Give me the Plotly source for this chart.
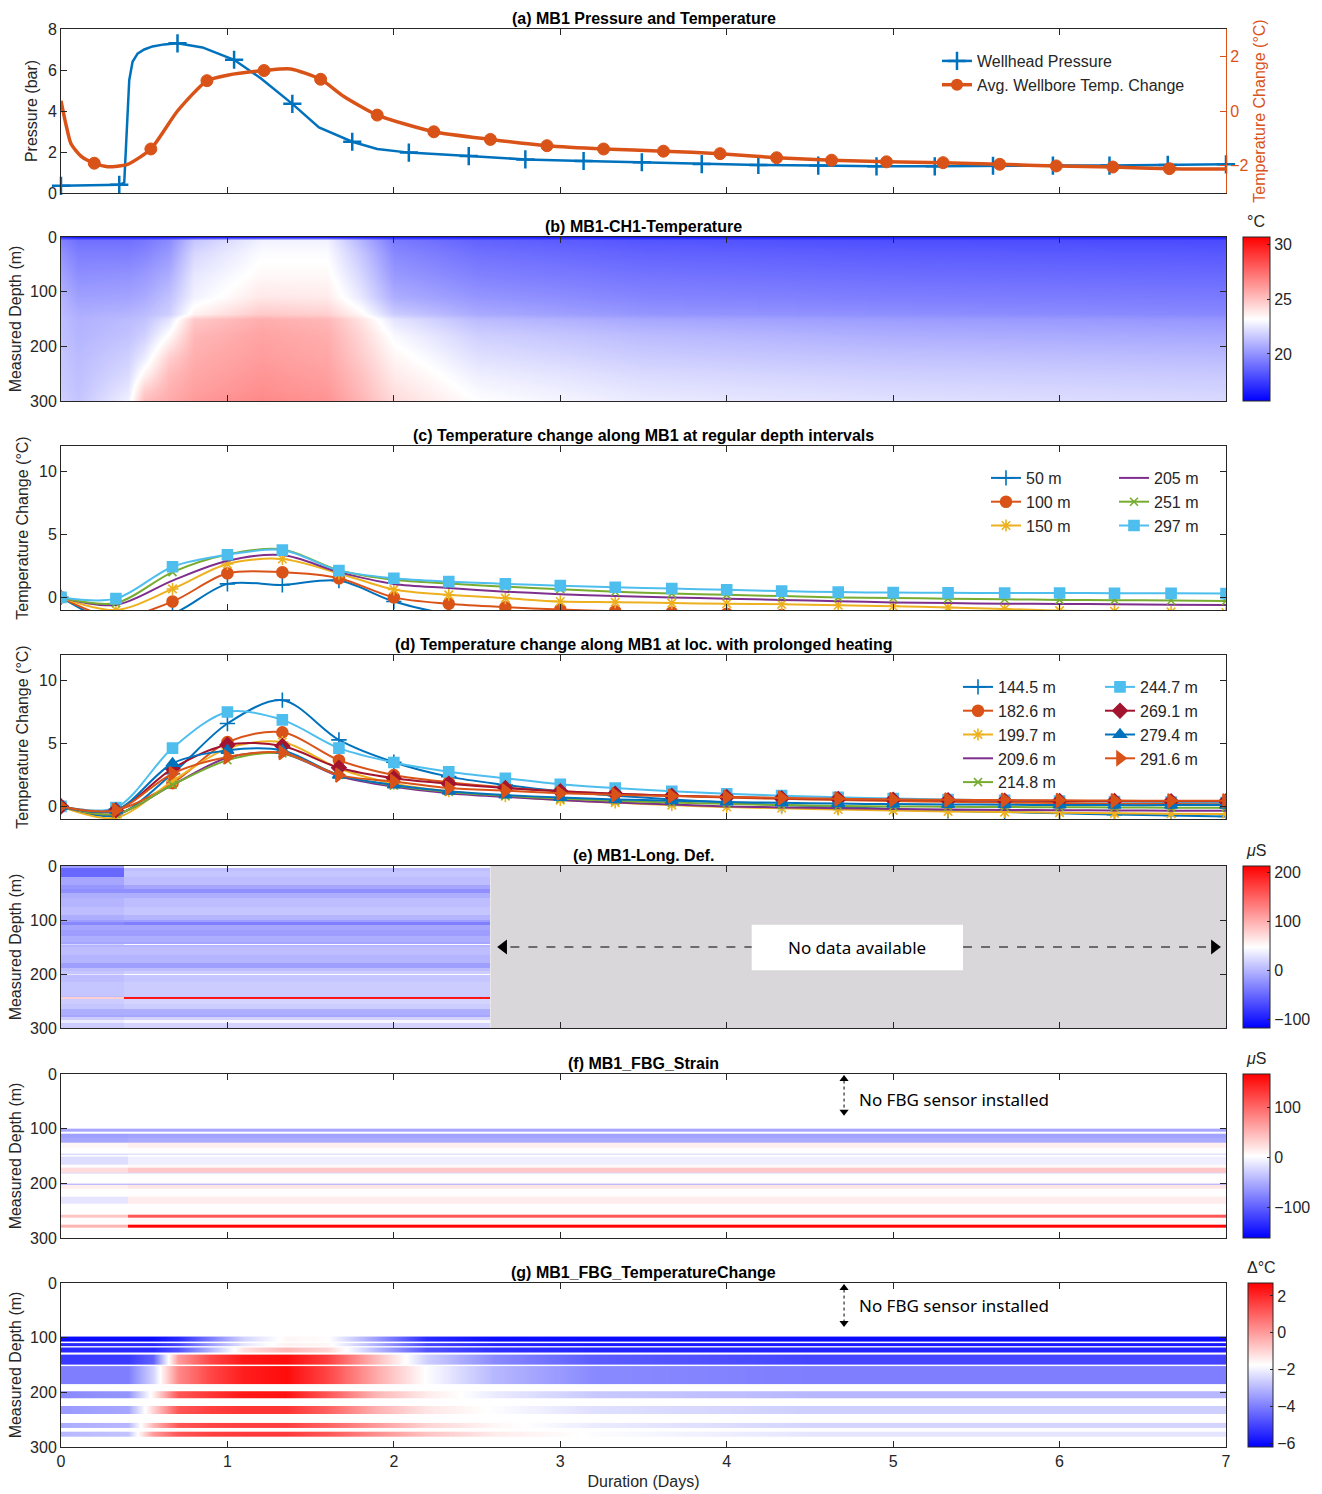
import plotly.graph_objects as go

# ======================= DATA =======================
# (a) wellhead pressure (bar) and average wellbore temperature change (°C)
p_days = [0, 0.35, 0.38, 0.40, 0.41, 0.43, 0.46, 0.5, 0.55, 0.62, 0.7, 0.85, 1.04, 1.2, 1.39, 1.55,
          1.75, 1.9, 2.09, 2.45, 2.79, 3.14, 3.49, 3.85, 4.19, 4.55, 4.9, 5.25, 5.6, 5.96, 6.3, 6.65, 7.0]
p_bar = [0.35, 0.4, 0.5, 3.8, 5.5, 6.4, 6.8, 7.0, 7.15, 7.25, 7.3, 7.1, 6.5, 5.6, 4.35, 3.2,
         2.5, 2.15, 1.97, 1.8, 1.64, 1.56, 1.5, 1.41, 1.37, 1.34, 1.3, 1.3, 1.33, 1.34, 1.34, 1.37, 1.4]
p_marker_days = [0, 0.35, 0.7, 1.04, 1.39, 1.75, 2.09, 2.45, 2.79, 3.14, 3.49, 3.85, 4.19, 4.55,
                 4.9, 5.25, 5.6, 5.96, 6.3, 6.65, 7.0]

t_days = [0, 0.03, 0.06, 0.12, 0.2, 0.28, 0.4, 0.54, 0.7, 0.877, 1.0, 1.22, 1.38, 1.56, 1.7, 1.9,
          2.24, 2.58, 2.92, 3.26, 3.62, 3.96, 4.3, 4.63, 4.96, 5.3, 5.64, 5.98, 6.32, 6.66, 7.0]
t_change = [0.375, -0.5, -1.2, -1.65, -1.91, -2.04, -1.95, -1.39, 0.0, 1.11, 1.31, 1.48, 1.54, 1.16, 0.53, -0.15,
            -0.76, -1.04, -1.27, -1.39, -1.47, -1.56, -1.71, -1.8, -1.86, -1.89, -1.95, -2.01, -2.05, -2.11, -2.12]
t_marker_days = [0.2, 0.54, 0.877, 1.22, 1.56, 1.9, 2.24, 2.58, 2.92, 3.26, 3.62, 3.96, 4.3, 4.63,
                 4.96, 5.3, 5.64, 5.98, 6.32, 6.66]

# (c)/(d) temperature change at depths, sampled every 1/3 day
tc_days = [0, 0.33, 0.67, 1.0, 1.33, 1.67, 2.0, 2.33, 2.67, 3.0, 3.33, 3.67, 4.0, 4.33, 4.67, 5.0,
           5.33, 5.67, 6.0, 6.33, 6.67, 7.0]
c50 = [0, -2.0, -1.3, 1.07, 0.99, 1.33, -0.33, -1.3, -1.6, -1.8, -1.9, -2.0, -2.0, -2.1, -2.1, -2.2, -2.2, -2.2, -2.3, -2.3, -2.3, -2.3]
c100 = [0, -1.6, -0.33, 1.91, 1.99, 1.52, 0.0, -0.51, -0.78, -0.96, -1.1, -1.2, -1.3, -1.4, -1.5, -1.5, -1.6, -1.6, -1.7, -1.7, -1.7, -1.8]
c150 = [0, -1.0, 0.67, 2.65, 3.04, 1.9, 0.62, 0.2, -0.06, -0.33, -0.38, -0.45, -0.5, -0.55, -0.62, -0.7, -0.8, -0.92, -1.05, -1.1, -1.15, -1.2]
c205 = [0, -0.6, 1.33, 2.9, 3.35, 2.0, 1.07, 0.75, 0.45, 0.25, 0.1, 0.0, -0.1, -0.2, -0.3, -0.4, -0.45, -0.5, -0.52, -0.55, -0.58, -0.6]
c251 = [0, -0.45, 2.0, 3.4, 3.8, 2.15, 1.4, 1.1, 0.85, 0.65, 0.45, 0.3, 0.2, 0.1, 0.0, -0.05, -0.1, -0.15, -0.2, -0.22, -0.25, -0.28]
c297 = [0, -0.1, 2.43, 3.38, 3.75, 2.12, 1.52, 1.25, 1.07, 0.93, 0.8, 0.7, 0.6, 0.5, 0.42, 0.38, 0.36, 0.35, 0.35, 0.33, 0.32, 0.3]

d144 = [0, -0.7, 2.6, 6.57, 8.42, 5.27, 3.5, 2.36, 1.7, 1.19, 0.85, 0.55, 0.3, 0.1, -0.05, -0.2, -0.35, -0.45, -0.55, -0.65, -0.72, -0.8]
d182 = [0, -0.3, 1.84, 5.09, 5.87, 3.66, 2.48, 1.91, 1.5, 1.2, 1.0, 0.85, 0.7, 0.6, 0.5, 0.42, 0.36, 0.3, 0.26, 0.23, 0.2, 0.2]
d199 = [0, -0.9, 2.0, 4.6, 5.1, 3.0, 1.8, 1.2, 0.8, 0.5, 0.3, 0.1, -0.05, -0.15, -0.25, -0.32, -0.4, -0.45, -0.5, -0.55, -0.58, -0.6]
d209 = [0, -0.6, 1.7, 3.85, 4.2, 2.4, 1.55, 1.05, 0.75, 0.5, 0.3, 0.15, 0.0, -0.08, -0.15, -0.2, -0.25, -0.28, -0.3, -0.32, -0.34, -0.35]
d214 = [0, -0.6, 1.7, 3.66, 4.2, 2.5, 1.65, 1.15, 0.85, 0.62, 0.45, 0.3, 0.2, 0.1, 0.03, 0.0, -0.03, -0.05, -0.07, -0.08, -0.1, -0.1]
d244 = [0, -0.1, 4.62, 7.48, 6.86, 4.62, 3.48, 2.75, 2.23, 1.76, 1.45, 1.2, 1.0, 0.85, 0.72, 0.62, 0.55, 0.48, 0.42, 0.38, 0.34, 0.3]
d269 = [0, -0.3, 3.0, 4.88, 4.78, 3.06, 2.23, 1.8, 1.45, 1.2, 1.0, 0.85, 0.75, 0.65, 0.58, 0.52, 0.48, 0.45, 0.43, 0.42, 0.41, 0.4]
d279 = [0, -0.3, 3.4, 4.44, 4.44, 2.48, 1.7, 1.2, 0.9, 0.7, 0.55, 0.45, 0.35, 0.28, 0.22, 0.18, 0.15, 0.13, 0.11, 0.1, 0.1, 0.1]
d291 = [0, -0.3, 2.6, 3.92, 4.26, 2.48, 1.97, 1.45, 1.24, 1.05, 0.92, 0.82, 0.74, 0.67, 0.6, 0.55, 0.52, 0.5, 0.48, 0.46, 0.45, 0.45]

# (b) DTS temperature (°C): rows = depth, columns = days
b_days = [0, 0.1, 0.4, 0.5, 0.65, 0.8, 1.2, 1.6, 1.8, 2.0, 2.5, 3.5, 5.0, 7.0]
b_depth = [0, 5, 30, 70, 110, 140, 150, 180, 220, 250, 280, 300]
b_temp = [
    [17.0, 16.5, 16.5, 16.5, 16.5, 16.5, 16.5, 16.5, 16.5, 16.5, 16.5, 16.5, 16.5, 16.5],
    [19.5, 19.0, 19.0, 19.2, 19.8, 21.5, 22.8, 22.8, 21.0, 19.3, 18.6, 18.2, 18.0, 17.9],
    [20.0, 19.4, 19.4, 19.6, 20.2, 22.0, 23.1, 23.1, 21.5, 19.7, 19.0, 18.6, 18.4, 18.3],
    [20.5, 19.9, 20.0, 20.2, 20.8, 22.5, 23.4, 23.4, 22.0, 20.2, 19.5, 19.1, 18.9, 18.8],
    [21.0, 20.4, 20.5, 20.7, 21.4, 22.8, 23.9, 23.8, 22.5, 20.8, 20.1, 19.6, 19.4, 19.3],
    [21.2, 20.8, 21.0, 21.2, 21.8, 23.6, 24.8, 24.6, 23.4, 21.7, 20.7, 20.1, 19.9, 19.7],
    [21.3, 20.9, 21.2, 21.4, 22.4, 24.8, 25.6, 25.3, 24.0, 22.4, 21.2, 20.6, 20.3, 20.1],
    [21.4, 21.0, 21.4, 21.8, 23.3, 25.3, 25.9, 25.6, 24.4, 23.0, 21.8, 21.2, 20.8, 20.6],
    [21.5, 21.2, 21.8, 22.6, 24.6, 25.6, 26.1, 25.8, 24.7, 23.5, 22.3, 21.7, 21.4, 21.2],
    [21.6, 21.3, 22.1, 23.5, 25.2, 25.8, 26.3, 26.0, 25.0, 23.8, 22.7, 22.1, 21.8, 21.6],
    [21.7, 21.4, 22.5, 24.6, 25.5, 26.0, 26.5, 26.2, 25.2, 24.1, 23.0, 22.4, 22.1, 21.9],
    [21.8, 21.5, 22.8, 25.2, 25.7, 26.2, 26.7, 26.4, 25.4, 24.3, 23.2, 22.6, 22.3, 22.1],
]

# (e) DAS longitudinal deformation (µS): depth bands, early (< 0.38 d) and main (0.38-2.58 d)
e_day_edges = [0, 0.38, 2.58]
e_depth_edges = [0, 3, 10, 20, 35, 42, 50, 60, 75, 90, 100, 103, 110, 118, 130, 140, 145, 147, 150, 165,
                 180, 188, 195, 200, 202, 215, 240, 243, 246, 255, 265, 275, 280, 285, 290, 300]
e_early = [-15, -50, -50, -10, -20, -25, -5, 0, 5, -5, -15, -30, -10, -15, -5, -10, 20, 0, 5,
           0, -15, 5, 10, 30, 5, 10, 5, 80, 15, 10, -5, -10, 15, 35, 15]
e_main = [45, 5, 10, 5, -10, -25, -5, 5, 10, 0, -15, -35, -10, -15, -5, -10, 45, 0, 5,
          0, -15, 5, 15, 48, 10, 15, 10, 200, 20, 15, -5, -10, 20, 42, 20]

# (f) FBG strain (µS)
f_day_edges = [0, 0.4, 7]
f_depth_edges = [100, 106, 109, 117, 125, 135, 145, 148, 152, 165, 172, 180, 183, 200, 203, 210, 225, 238,
                 257, 262, 275, 282]
f_early = [-55, None, -60, -55, 8, 2, -30, 0, -20, 3, 25, -20, 2, -55, 12, 2, -15, 2, 40, 3, 50]
f_late = [-55, None, -58, -52, 12, 3, -25, 2, -8, 5, 38, -20, 3, -55, 18, 3, 14, 3, 110, 5, 165]

# (g) FBG temperature change (°C) per sensor band
g_days = [0, 0.4, 0.55, 0.7, 0.9, 1.1, 1.35, 1.6, 1.9, 2.2, 2.6, 3.2, 4.5, 7.0]
g_bands = [(98, 108), (110, 116), (118, 128), (131, 149), (152, 185), (198, 210), (225, 240), (256, 266), (272, 282)]
g_values = [
    [-6.0, -6.0, -6.0, -5.5, -4.0, -2.5, -1.6, -1.7, -3.5, -5.5, -6.0, -6.0, -6.0, -6.0],
    [-5.5, -5.5, -5.5, -5.0, -3.5, -2.2, -1.5, -1.6, -3.2, -5.0, -5.6, -5.8, -5.8, -5.8],
    [-5.5, -5.5, -5.5, -4.8, -3.0, -1.2, -0.5, -1.0, -3.0, -4.8, -5.4, -5.6, -5.6, -5.6],
    [-5.2, -5.2, -4.5, 0.0, 1.5, 2.3, 2.5, 1.6, -0.6, -2.6, -3.8, -4.6, -5.0, -5.0],
    [-4.0, -4.0, -2.5, 0.3, 1.5, 2.2, 2.5, 1.5, -0.3, -1.8, -3.0, -3.8, -4.0, -4.0],
    [-3.8, -3.6, -1.5, 1.2, 1.8, 2.3, 2.4, 1.2, -0.5, -1.4, -2.1, -2.7, -3.0, -3.0],
    [-3.5, -3.3, -1.0, 1.2, 1.6, 1.8, 1.8, 1.0, -0.4, -1.3, -1.8, -2.3, -2.6, -2.6],
    [-3.2, -3.0, -0.5, 1.2, 1.5, 1.6, 1.6, 1.0, 0.0, -1.0, -1.6, -2.1, -2.5, -2.5],
    [-3.0, -2.8, 0.0, 1.2, 1.6, 1.7, 1.7, 1.2, 0.2, -0.7, -1.4, -1.8, -2.2, -2.2],
]

day_ticks = [0, 1, 2, 3, 4, 5, 6, 7]
depth_ticks = [0, 100, 200, 300]

# ======================= STYLE / LAYOUT =======================
W, H = 1322, 1494
PX0, PX1 = 61, 1226
PANELS = [(29, 193), (237, 401), (446, 610), (655, 819), (866, 1028), (1074, 1238), (1283, 1447)]
FONT = "Liberation Sans, Arial, sans-serif"
TFONT = "Liberation Sans Narrow, Arial Narrow, Liberation Sans, Arial, sans-serif"
SANS = "Noto Sans, Open Sans, sans-serif"
INK = "#262626"
BLUE, ORANGE, YELLOW = "#0072BD", "#D95319", "#EDB120"
PURPLE, GREEN, CYAN, DRED = "#7E2F8E", "#77AC30", "#4DBEEE", "#A2142F"
BWR = [[0, "rgb(0,0,255)"], [0.5, "rgb(255,255,255)"], [1, "rgb(255,0,0)"]]


def ydom(i):
    top, bot = PANELS[i]
    return [1 - bot / H, 1 - top / H]


def py(pix):
    return 1 - pix / H


def px(pix):
    return pix / W


fig = go.Figure()

ax_common = dict(showline=True, linecolor=INK, linewidth=1, ticks="inside", ticklen=6, tickcolor=INK,
                 showgrid=False, zeroline=False, tickfont=dict(family=FONT, size=16, color=INK))

layout = dict(width=W, height=H, margin=dict(l=0, r=0, t=0, b=0, autoexpand=False),
              plot_bgcolor="white", paper_bgcolor="white", hovermode=False,
              font=dict(family=FONT, size=16, color=INK))

ynames = ["y", "y2", "y3", "y4", "y5", "y6", "y7"]
xnames = ["x", "x2", "x3", "x4", "x5", "x6", "x7"]
for i in range(7):
    xk = "xaxis" if i == 0 else f"xaxis{i + 1}"
    yk = "yaxis" if i == 0 else f"yaxis{i + 1}"
    layout[xk] = dict(ax_common, domain=[px(PX0), px(PX1)], anchor=ynames[i], range=[0, 7],
                      tickvals=day_ticks, mirror="ticks", showticklabels=(i == 6))
    if i == 0:
        layout[yk] = dict(ax_common, domain=ydom(i), anchor="x", range=[0, 8], tickvals=[0, 2, 4, 6, 8],
                          mirror=False, title=dict(text="Pressure (bar)", font=dict(size=16), standoff=6))
    elif i in (2, 3):
        layout[yk] = dict(ax_common, domain=ydom(i), anchor=xnames[i], range=[-1, 12], tickvals=[0, 5, 10],
                          mirror="ticks", title=dict(text="Temperature Change (°C)", font=dict(size=16), standoff=6))
    else:
        layout[yk] = dict(ax_common, domain=ydom(i), anchor=xnames[i], range=[300, 0], tickvals=depth_ticks,
                          mirror="ticks", title=dict(text="Measured Depth (m)", font=dict(size=16), standoff=4))
layout["xaxis7"]["title"] = dict(text="Duration (Days)", font=dict(size=16), standoff=6)
layout["yaxis8"] = dict(ax_common, overlaying="y", side="right", anchor="x", range=[-3, 3], tickvals=[-2, 0, 2],
                        linecolor=ORANGE, tickcolor=ORANGE, tickfont=dict(family=FONT, size=16, color=ORANGE),
                        title=dict(text="Temperature Change (°C)", font=dict(size=16, color=ORANGE), standoff=6))

# ---------- (a) ----------
p_lookup = dict(zip(p_days, p_bar))
t_lookup = dict(zip(t_days, t_change))
fig.add_trace(go.Scatter(x=p_days, y=p_bar, mode="lines", line=dict(color=BLUE, width=2.5),
                         showlegend=False, xaxis="x", yaxis="y"))
fig.add_trace(go.Scatter(x=p_marker_days, y=[p_lookup[d] for d in p_marker_days], mode="markers",
                         marker=dict(symbol="cross-thin", size=13, color=BLUE, line=dict(color=BLUE, width=2.5)),
                         showlegend=False, xaxis="x", yaxis="y", cliponaxis=False))
fig.add_trace(go.Scatter(x=t_days, y=t_change, mode="lines",
                         line=dict(color=ORANGE, width=3.5, shape="spline", smoothing=0.6),
                         showlegend=False, xaxis="x", yaxis="y8"))
fig.add_trace(go.Scatter(x=t_marker_days, y=[t_lookup[d] for d in t_marker_days], mode="markers",
                         marker=dict(symbol="circle", size=12, color=ORANGE, line=dict(color=ORANGE, width=1)),
                         showlegend=False, xaxis="x", yaxis="y8"))
fig.add_trace(go.Scatter(x=[None], y=[None], mode="lines+markers", name="Wellhead Pressure",
                         line=dict(color=BLUE, width=2.5),
                         marker=dict(symbol="cross-thin", size=13, color=BLUE, line=dict(color=BLUE, width=2.5)),
                         xaxis="x", yaxis="y", legend="legend"))
fig.add_trace(go.Scatter(x=[None], y=[None], mode="lines+markers", name="Avg. Wellbore Temp. Change",
                         line=dict(color=ORANGE, width=3.5),
                         marker=dict(symbol="circle", size=12, color=ORANGE),
                         xaxis="x", yaxis="y", legend="legend"))


def series(vals, name, color, symbol, size, xa, ya, leg):
    mode = "lines" if symbol is None else "lines+markers"
    mk = dict(size=size, color=color, line=dict(color=color, width=1.6))
    if symbol is not None:
        mk["symbol"] = symbol
    fig.add_trace(go.Scatter(x=tc_days, y=vals, name=name, mode=mode,
                             line=dict(color=color, width=2, shape="spline", smoothing=0.9),
                             marker=mk, xaxis=xa, yaxis=ya, legend=leg))


# ---------- (c) ----------
series(c50, "50 m", BLUE, "cross-thin", 11, "x3", "y3", "legend2")
series(c100, "100 m", ORANGE, "circle", 11, "x3", "y3", "legend2")
series(c150, "150 m", YELLOW, "asterisk-open", 10, "x3", "y3", "legend2")
series(c205, "205 m", PURPLE, None, 8, "x3", "y3", "legend3")
series(c251, "251 m", GREEN, "x-thin-open", 8, "x3", "y3", "legend3")
series(c297, "297 m", CYAN, "square", 10, "x3", "y3", "legend3")

# ---------- (d) ----------
series(d144, "144.5 m", BLUE, "cross-thin", 11, "x4", "y4", "legend4")
series(d182, "182.6 m", ORANGE, "circle", 11, "x4", "y4", "legend4")
series(d199, "199.7 m", YELLOW, "asterisk-open", 10, "x4", "y4", "legend4")
series(d209, "209.6 m", PURPLE, None, 8, "x4", "y4", "legend4")
series(d214, "214.8 m", GREEN, "x-thin-open", 8, "x4", "y4", "legend4")
series(d244, "244.7 m", CYAN, "square", 10, "x4", "y4", "legend5")
series(d269, "269.1 m", DRED, "diamond", 11, "x4", "y4", "legend5")
series(d279, "279.4 m", BLUE, "triangle-up", 11, "x4", "y4", "legend5")
series(d291, "291.6 m", ORANGE, "triangle-right", 12, "x4", "y4", "legend5")

# ---------- (b) heatmap ----------
fig.add_trace(go.Heatmap(x=b_days, y=b_depth, z=b_temp, zsmooth="best", coloraxis="coloraxis",
                         xaxis="x2", yaxis="y2", showlegend=False))

# ---------- (e) heatmap ----------
e_z = [[a, b] for a, b in zip(e_early, e_main)]
fig.add_trace(go.Heatmap(x=e_day_edges, y=e_depth_edges, z=e_z, coloraxis="coloraxis2",
                         xaxis="x5", yaxis="y5", showlegend=False))

# ---------- (f) heatmap ----------
f_z = [[a, b] for a, b in zip(f_early, f_late)]
fig.add_trace(go.Heatmap(x=f_day_edges, y=f_depth_edges, z=f_z, coloraxis="coloraxis3",
                         xaxis="x6", yaxis="y6", showlegend=False))

# ---------- (g) heatmap bands ----------
for (top, bot), vals in zip(g_bands, g_values):
    fig.add_trace(go.Heatmap(x=g_days, y=[top, (top + bot) / 2, bot], z=[vals, vals], zsmooth="best",
                             coloraxis="coloraxis4", xaxis="x7", yaxis="y7", showlegend=False))

# arrows / markers for annotations in e, f, g
fig.add_trace(go.Scatter(x=[2.66, 6.93], y=[150, 150], mode="markers", showlegend=False,
                         marker=dict(symbol=["triangle-left", "triangle-right"], size=13, color="black"),
                         xaxis="x5", yaxis="y5", cliponaxis=False))
for xa, ya, (y_top, y_bot) in (("x6", "y6", (9, 69)), ("x7", "y7", (9, 73))):
    fig.add_trace(go.Scatter(x=[4.705, 4.705], y=[y_top, y_bot], mode="markers", showlegend=False,
                             marker=dict(symbol=["triangle-up", "triangle-down"], size=8, color="black"),
                             xaxis=xa, yaxis=ya, cliponaxis=False))


def cbar(top, bot, left, width, tickvals):
    return dict(x=px(left), xanchor="left", xpad=0, ypad=0, y=1 - (top + bot) / 2 / H, yanchor="middle",
                len=(bot - top) / H, lenmode="fraction", thickness=width, thicknessmode="pixels",
                outlinecolor=INK, outlinewidth=1, ticks="inside", ticklen=3, tickcolor=INK,
                tickvals=tickvals, tickfont=dict(family=FONT, size=16, color=INK))


layout["coloraxis"] = dict(colorscale=BWR, cmin=15.7, cmax=30.7,
                           colorbar=cbar(237, 401, 1243, 27, [20, 25, 30]))
layout["coloraxis2"] = dict(colorscale=BWR, cmin=-118, cmax=214,
                            colorbar=cbar(866, 1028, 1243, 27, [-100, 0, 100, 200]))
layout["coloraxis3"] = dict(colorscale=BWR, cmin=-162, cmax=166,
                            colorbar=cbar(1074, 1238, 1243, 27, [-100, 0, 100]))
layout["coloraxis4"] = dict(colorscale=BWR, cmin=-6.2, cmax=2.7,
                            colorbar=cbar(1283, 1447, 1248, 25, [-6, -4, -2, 0, 2]))

# legends
leg_common = dict(bgcolor="rgba(0,0,0,0)", borderwidth=0, xanchor="left", yanchor="top",
                  font=dict(family=FONT, size=16, color=INK), tracegroupgap=0, itemclick=False)
layout["legend"] = dict(leg_common, x=px(937), y=py(44))
layout["legend2"] = dict(leg_common, x=px(986), y=py(461))
layout["legend3"] = dict(leg_common, x=px(1114), y=py(461))
layout["legend4"] = dict(leg_common, x=px(958), y=py(670))
layout["legend5"] = dict(leg_common, x=px(1100), y=py(670))

# titles
titles = ["(a) MB1 Pressure and Temperature", "(b) MB1-CH1-Temperature",
          "(c) Temperature change along MB1 at regular depth intervals",
          "(d) Temperature change along MB1 at loc. with prolonged heating",
          "(e) MB1-Long. Def.", "(f) MB1_FBG_Strain", "(g) MB1_FBG_TemperatureChange"]
annotations = []
for i, t in enumerate(titles):
    annotations.append(dict(text=f"<b>{t}</b>", x=px((PX0 + PX1) / 2), y=py(PANELS[i][0] - 11),
                            xref="paper", yref="paper", showarrow=False, xanchor="center", yanchor="middle",
                            font=dict(family=TFONT, size=16, color="black")))
# colorbar unit labels
for txt, xc, yc in (("°C", 1256, 221), ("<i>μ</i>S", 1256, 850), ("<i>μ</i>S", 1256, 1058), ("Δ°C", 1261, 1267)):
    annotations.append(dict(text=txt, x=px(xc), y=py(yc), xref="paper", yref="paper", showarrow=False,
                            xanchor="center", yanchor="middle", font=dict(family=FONT, size=16, color=INK)))
annotations.append(dict(text="No data available", x=4.785, y=151, xref="x5", yref="y5", showarrow=False,
                        font=dict(family=SANS, size=17, color="black")))
annotations.append(dict(text="No FBG sensor installed", x=4.78, y=46, xref="x6", yref="y6", showarrow=False,
                        xanchor="left", font=dict(family=SANS, size=17, color="black")))
annotations.append(dict(text="No FBG sensor installed", x=4.78, y=42, xref="x7", yref="y7", showarrow=False,
                        xanchor="left", font=dict(family=SANS, size=17, color="black")))
layout["annotations"] = annotations

shapes = [
    dict(type="rect", xref="x5", yref="y5", x0=2.58, x1=7, y0=0, y1=300, fillcolor="#D9D7D9",
         line=dict(width=0), layer="below"),
    dict(type="rect", xref="x5", yref="y5", x0=4.15, x1=5.42, y0=109, y1=193, fillcolor="white",
         line=dict(width=0), layer="below"),
    dict(type="line", xref="x5", yref="y5", x0=2.7, x1=4.15, y0=150, y1=150,
         line=dict(color="black", width=1, dash="dash")),
    dict(type="line", xref="x5", yref="y5", x0=5.42, x1=6.89, y0=150, y1=150,
         line=dict(color="black", width=1, dash="dash")),
    dict(type="line", xref="x6", yref="y6", x0=4.705, x1=4.705, y0=12, y1=66,
         line=dict(color="black", width=1, dash="dot")),
    dict(type="line", xref="x7", yref="y7", x0=4.705, x1=4.705, y0=12, y1=70,
         line=dict(color="black", width=1, dash="dot")),
]
layout["shapes"] = shapes

fig.update_layout(**layout)
fig.write_html("out.html", config={"displayModeBar": False},
               post_script="document.body.style.margin='0px';document.body.style.overflow='hidden';")
